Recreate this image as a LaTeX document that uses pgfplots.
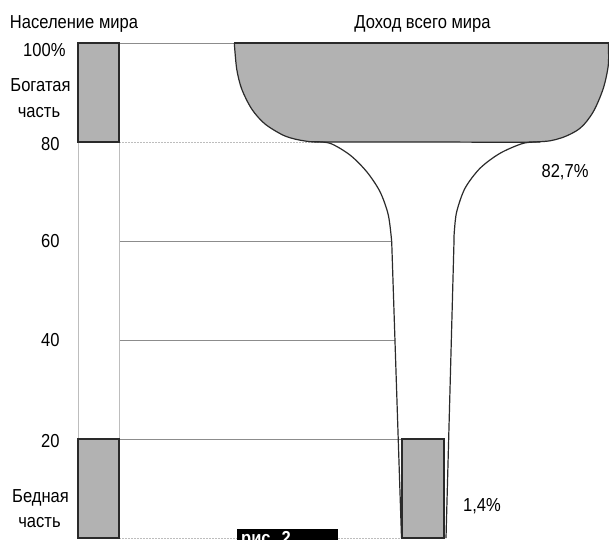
\documentclass[border=0pt]{standalone}
\usepackage{pgfplots}
\pgfplotsset{compat=1.18}
\usepackage{fontspec}
\setmainfont{Liberation Sans}[FakeStretch=0.88]

\definecolor{barfill}{HTML}{B2B2B2}
\definecolor{edge}{HTML}{2A2A2A}
\definecolor{gridln}{HTML}{8C8C8C}
\definecolor{gridlt}{HTML}{BDBDBD}

\begin{document}
\begin{tikzpicture}[font=\fontsize{18.8bp}{22bp}\selectfont]
\begin{axis}[
    x=1bp, y=4.95bp,
    xmin=0, xmax=609, ymin=-0.2, ymax=108.7,
    hide axis, clip=false,
    every node/.append style={inner sep=0pt},
]
% guide lines
\addplot[gridln, line width=0.9bp] coordinates {(119,100) (234,100)};
\addplot[gridlt, line width=0.9bp, dash pattern=on 2bp off 1bp] coordinates {(119,80) (320,80)};
\addplot[gridln, line width=0.9bp] coordinates {(119,60) (391.7,60)};
\addplot[gridln, line width=0.9bp] coordinates {(119,40) (395,40)};
\addplot[gridln, line width=0.9bp] coordinates {(119,20) (402,20)};
\addplot[gridlt, line width=0.9bp, dash pattern=on 2bp off 1bp] coordinates {(119,0) (402,0)};
\addplot[gridlt, line width=0.9bp] coordinates {(78,20) (78,80)};
\addplot[gridlt, line width=0.9bp] coordinates {(119,20) (119,80)};

% population bars
\addplot[fill=barfill, draw=edge, line width=1.3bp] coordinates {(78,80) (119,80) (119,100) (78,100)} -- cycle;
\addplot[fill=barfill, draw=edge, line width=1.3bp] coordinates {(78,0) (119,0) (119,20) (78,20)} -- cycle;

% income funnel: bowl (richest 20%)
\addplot[smooth, fill=barfill, draw=edge, line width=1.2bp] coordinates {
    (234.3,100) (236.7,94.75) (241.7,90.71) (251.7,86.67) (265,83.64) (285,81.21)
    (305,80.2) (325,80) (430,80) (533,80) (560,80.75)
    (580,82.77) (593.3,86.12) (603.3,90.85) (608.3,95.56) (608.3,100)};
\addplot[edge, line width=1.7bp] coordinates {(234.3,100) (608.6,100)};

% income funnel: stem
\addplot[smooth, edge, line width=1.2bp] coordinates {
    (311.7,80.06) (330,79.74) (350,77.37) (366.7,74.0) (380,69.96) (388.3,65.25) (391.7,59.86)};
\addplot[edge, line width=1.2bp] coordinates {(391.7,59.86) (401.5,0)};
\addplot[smooth, edge, line width=1.2bp] coordinates {
    (540,80) (523.3,79.74) (500,77.72) (480,74.69) (465,70.65) (456.7,65.92) (454.3,61.88) (454,60)};
\addplot[edge, line width=1.2bp] coordinates {(454,60) (446,0)};

% poorest 20% income
\addplot[fill=barfill, draw=edge, line width=1.3bp] coordinates {(402,0) (444,0) (444,20) (402,20)} -- cycle;

% labels
\node[anchor=base] at (axis cs:74,103.03) {Население мира};
\node[anchor=base] at (axis cs:422.5,103.03) {Доход всего мира};
\node[anchor=base east] at (axis cs:69,97.37) {100\%};
\node[anchor=base] at (axis cs:40.5,90.2) {Богатая};
\node[anchor=base] at (axis cs:39,85.05) {часть};
\node[anchor=base east] at (axis cs:63,78.38) {80};
\node[anchor=base east] at (axis cs:63,58.79) {60};
\node[anchor=base east] at (axis cs:63,38.79) {40};
\node[anchor=base east] at (axis cs:63,18.38) {20};
\node[anchor=base] at (axis cs:40.5,7.27) {Бедная};
\node[anchor=base] at (axis cs:39.5,2.22) {часть};
\node[anchor=base] at (axis cs:565,72.73) {82,7\%};
\node[anchor=base] at (axis cs:482,5.45) {1,4\%};
\node[anchor=north west, fill=black, text=white, font=\fontsize{18.8bp}{22bp}\selectfont\bfseries,
      inner xsep=4bp, inner ysep=2.5bp, text width=93bp, align=left]
      at (axis cs:237,1.82) {рис.~2};

\coordinate (bl) at (axis cs:0,-0.202);
\coordinate (tr) at (axis cs:609,108.69);
\end{axis}
\pgfresetboundingbox
\useasboundingbox (bl) rectangle (tr);
\end{tikzpicture}
\end{document}
